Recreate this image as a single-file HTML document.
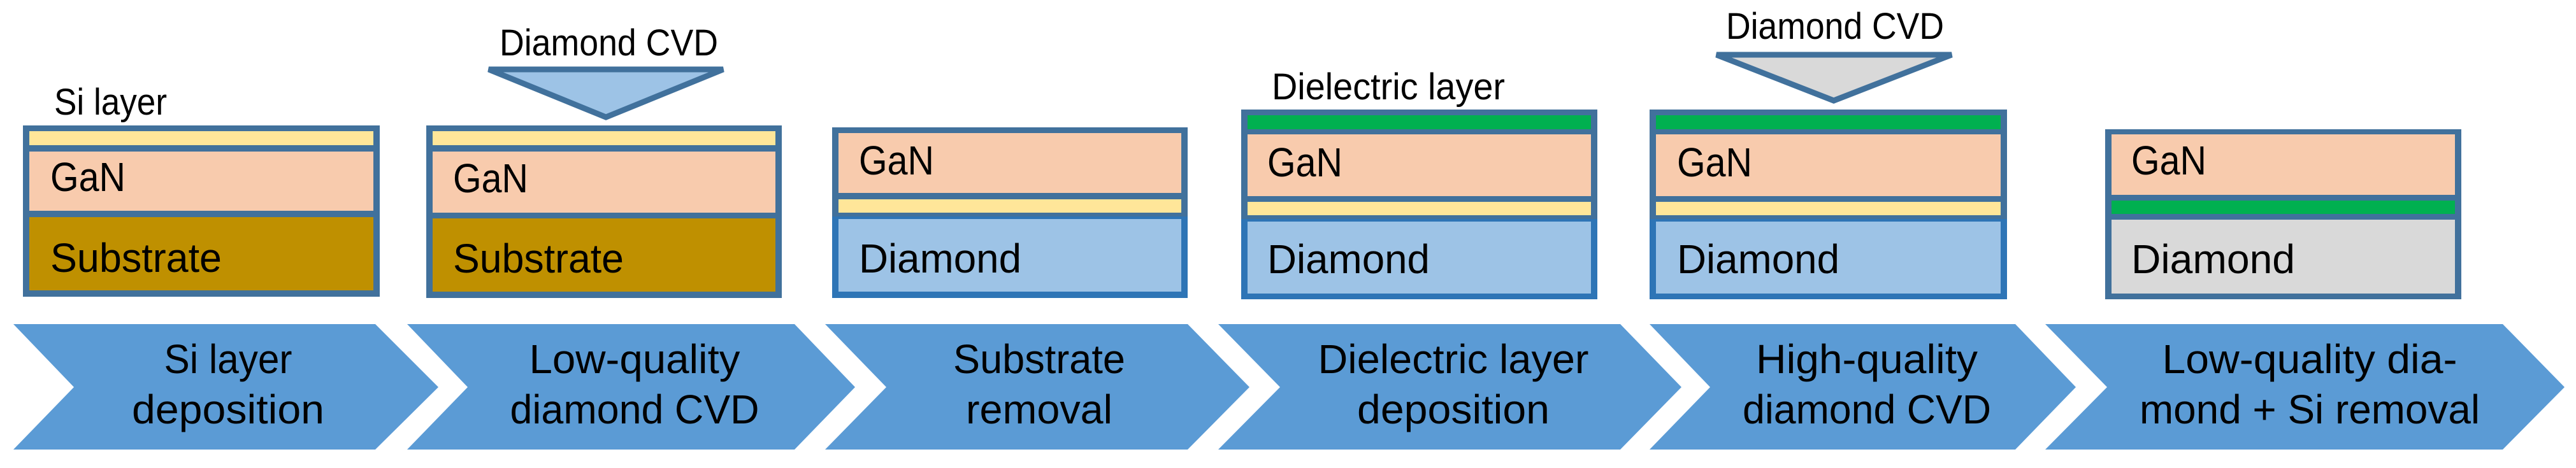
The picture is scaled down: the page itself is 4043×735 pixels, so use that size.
<!DOCTYPE html>
<html><head><meta charset="utf-8"><style>
html,body{margin:0;padding:0;background:#fff;}
svg{display:block;}
text{font-family:"Liberation Sans",sans-serif;fill:#000;}
</style></head><body>
<svg width="4043" height="735" viewBox="0 0 4043 735" xmlns="http://www.w3.org/2000/svg">
<!-- chevrons -->
<g fill="#5b9bd5">
<polygon points="21,509 589,509 688,608 589,706 21,706 116,608"/>
<polygon points="639,509 1247,509 1342,608 1247,706 639,706 734,608"/>
<polygon points="1295,509 1864,509 1961,608 1864,706 1295,706 1391,608"/>
<polygon points="1912,509 2543,509 2639,608 2543,706 1912,706 2009,608"/>
<polygon points="2589,509 3163,509 3258,608 3163,706 2589,706 2684,608"/>
<polygon points="3210,509 3928,509 4025,608 3928,706 3210,706 3307,608"/>
</g>
<g font-size="64" text-anchor="middle">
<text x="358" y="586" textLength="201" lengthAdjust="spacingAndGlyphs">Si layer</text>
<text x="358" y="665" textLength="302" lengthAdjust="spacingAndGlyphs">deposition</text>
<text x="996" y="586" textLength="331" lengthAdjust="spacingAndGlyphs">Low-quality</text>
<text x="996" y="665" textLength="391" lengthAdjust="spacingAndGlyphs">diamond CVD</text>
<text x="1631" y="586" textLength="270" lengthAdjust="spacingAndGlyphs">Substrate</text>
<text x="1631" y="665" textLength="230" lengthAdjust="spacingAndGlyphs">removal</text>
<text x="2281" y="586" textLength="425" lengthAdjust="spacingAndGlyphs">Dielectric layer</text>
<text x="2281" y="665" textLength="302" lengthAdjust="spacingAndGlyphs">deposition</text>
<text x="2930" y="586" textLength="348" lengthAdjust="spacingAndGlyphs">High-quality</text>
<text x="2930" y="665" textLength="390" lengthAdjust="spacingAndGlyphs">diamond CVD</text>
<text x="3625" y="586" textLength="463" lengthAdjust="spacingAndGlyphs">Low-quality dia-</text>
<text x="3625" y="665" textLength="534" lengthAdjust="spacingAndGlyphs">mond + Si removal</text>
</g>

<!-- stack 1 -->
<rect x="36" y="197" width="560" height="269" fill="#41719c"/>
<rect x="46" y="206" width="540" height="22" fill="#ffe699"/>
<rect x="46" y="238" width="540" height="93" fill="#f8cbad"/>
<rect x="46" y="341" width="540" height="115" fill="#bf9000"/>
<!-- stack 2 -->
<rect x="669" y="197" width="558" height="271" fill="#41719c"/>
<rect x="679" y="206" width="538" height="22" fill="#ffe699"/>
<rect x="679" y="238" width="538" height="96" fill="#f8cbad"/>
<rect x="679" y="343" width="538" height="115" fill="#bf9000"/>
<!-- stack 3 -->
<rect x="1306" y="200" width="558" height="268" fill="#41719c"/>
<rect x="1306" y="340" width="558" height="128" fill="#2e75b6"/>
<rect x="1316" y="209" width="538" height="94" fill="#f8cbad"/>
<rect x="1316" y="313" width="538" height="21" fill="#ffe699"/>
<rect x="1316" y="344" width="538" height="114" fill="#9dc3e6"/>
<!-- stack 4 -->
<rect x="1948" y="172" width="559" height="298" fill="#41719c"/>
<rect x="1948" y="344" width="559" height="126" fill="#2e75b6"/>
<rect x="1958" y="181" width="539" height="22" fill="#00b050"/>
<rect x="1958" y="211" width="539" height="97" fill="#f8cbad"/>
<rect x="1958" y="317" width="539" height="21" fill="#ffe699"/>
<rect x="1958" y="348" width="539" height="113" fill="#9dc3e6"/>
<!-- stack 5 -->
<rect x="2589" y="172" width="561" height="298" fill="#41719c"/>
<rect x="2589" y="344" width="561" height="126" fill="#2e75b6"/>
<rect x="2599" y="181" width="541" height="22" fill="#00b050"/>
<rect x="2599" y="211" width="541" height="97" fill="#f8cbad"/>
<rect x="2599" y="317" width="541" height="21" fill="#ffe699"/>
<rect x="2599" y="348" width="541" height="113" fill="#9dc3e6"/>
<!-- stack 6 -->
<rect x="3304" y="203" width="559" height="267" fill="#41719c"/>
<rect x="3314" y="211" width="539" height="95" fill="#f8cbad"/>
<rect x="3314" y="315" width="539" height="21" fill="#00b050"/>
<rect x="3314" y="345" width="539" height="116" fill="#d9d9d9"/>

<!-- triangles -->
<polygon points="767,109 1135,109 951,184" fill="#9dc3e6" stroke="#41719c" stroke-width="9" stroke-linejoin="miter"/>
<polygon points="2694,86 3063,86 2878,158" fill="#d9d9d9" stroke="#41719c" stroke-width="9" stroke-linejoin="miter"/>

<!-- layer labels -->
<g font-size="64">
<text x="79" y="300" textLength="118" lengthAdjust="spacingAndGlyphs">GaN</text>
<text x="79" y="427" textLength="269" lengthAdjust="spacingAndGlyphs">Substrate</text>
<text x="711" y="302" textLength="118" lengthAdjust="spacingAndGlyphs">GaN</text>
<text x="711" y="428" textLength="268" lengthAdjust="spacingAndGlyphs">Substrate</text>
<text x="1348" y="274" textLength="118" lengthAdjust="spacingAndGlyphs">GaN</text>
<text x="1348" y="428" textLength="255" lengthAdjust="spacingAndGlyphs">Diamond</text>
<text x="1989" y="277" textLength="118" lengthAdjust="spacingAndGlyphs">GaN</text>
<text x="1989" y="429" textLength="255" lengthAdjust="spacingAndGlyphs">Diamond</text>
<text x="2632" y="277" textLength="118" lengthAdjust="spacingAndGlyphs">GaN</text>
<text x="2632" y="429" textLength="255" lengthAdjust="spacingAndGlyphs">Diamond</text>
<text x="3345" y="274" textLength="118" lengthAdjust="spacingAndGlyphs">GaN</text>
<text x="3345" y="429" textLength="257" lengthAdjust="spacingAndGlyphs">Diamond</text>
</g>
<!-- top labels -->
<g font-size="58">
<text x="85" y="180" textLength="177" lengthAdjust="spacingAndGlyphs">Si layer</text>
<text x="784" y="87" textLength="343" lengthAdjust="spacingAndGlyphs">Diamond CVD</text>
<text x="1996" y="156" textLength="366" lengthAdjust="spacingAndGlyphs">Dielectric layer</text>
<text x="2709" y="61" textLength="342" lengthAdjust="spacingAndGlyphs">Diamond CVD</text>
</g>
</svg>
</body></html>
